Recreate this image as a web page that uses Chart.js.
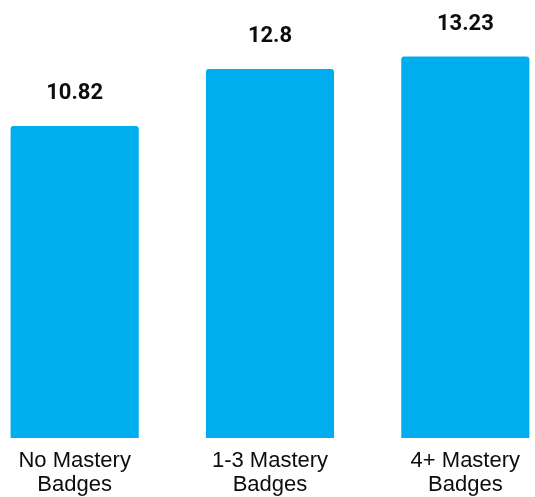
<!DOCTYPE html>
<html>
<head>
<meta charset="utf-8">
<script src="https://cdn.jsdelivr.net/npm/chart.js@4"></script>
<style>
  html, body { margin: 0; padding: 0; background: #ffffff; overflow: hidden; }
  body { width: 535px; height: 497px; position: relative; }
  #wrap { position: absolute; left: -23px; top: 0; width: 586px; height: 497px; }
</style>
</head>
<body>
<div id="wrap"><canvas id="chart"></canvas></div>
<script>
// Average score by number of mastery badges earned
const categories = [["No Mastery", "Badges"], ["1-3 Mastery", "Badges"], ["4+ Mastery", "Badges"]];
const values = [10.82, 12.8, 13.23];
const valueLabels = ["10.82", "12.8", "13.23"];

const BAR_COLOR = "#00AEEF";

// Prints each bar's value above it
const valueLabelPlugin = {
  id: "valueLabels",
  afterDatasetsDraw(chart) {
    const ctx = chart.ctx;
    const meta = chart.getDatasetMeta(0);
    ctx.save();
    ctx.font = "bold 22px Roboto";
    ctx.fillStyle = "#0d0d0d";
    ctx.textAlign = "center";
    ctx.textBaseline = "alphabetic";
    meta.data.forEach((bar, i) => {
      ctx.fillText(valueLabels[i], bar.x, bar.y - 27);
    });
    ctx.restore();
  }
};

new Chart(document.getElementById("chart"), {
  type: "bar",
  data: {
    labels: categories,
    datasets: [{
      data: values,
      backgroundColor: BAR_COLOR,
      borderRadius: 3,
      borderSkipped: "bottom",
      barPercentage: 0.82,
      categoryPercentage: 0.8
    }]
  },
  options: {
    responsive: true,
    maintainAspectRatio: false,
    animation: false,
    layout: { padding: 0 },
    plugins: {
      legend: { display: false },
      tooltip: { enabled: false }
    },
    scales: {
      x: {
        grid: { display: false, drawTicks: false },
        border: { display: false },
        ticks: {
          color: "#0d0d0d",
          font: { family: "'Liberation Sans', Arial, sans-serif", size: 22, lineHeight: 1.09 },
          padding: 11,
          maxRotation: 0,
          autoSkip: false
        },
        afterFit(scale) { scale.height = 59; }
      },
      y: {
        display: false,
        min: 0,
        max: 15.19
      }
    }
  },
  plugins: [valueLabelPlugin]
});
</script>
</body>
</html>
